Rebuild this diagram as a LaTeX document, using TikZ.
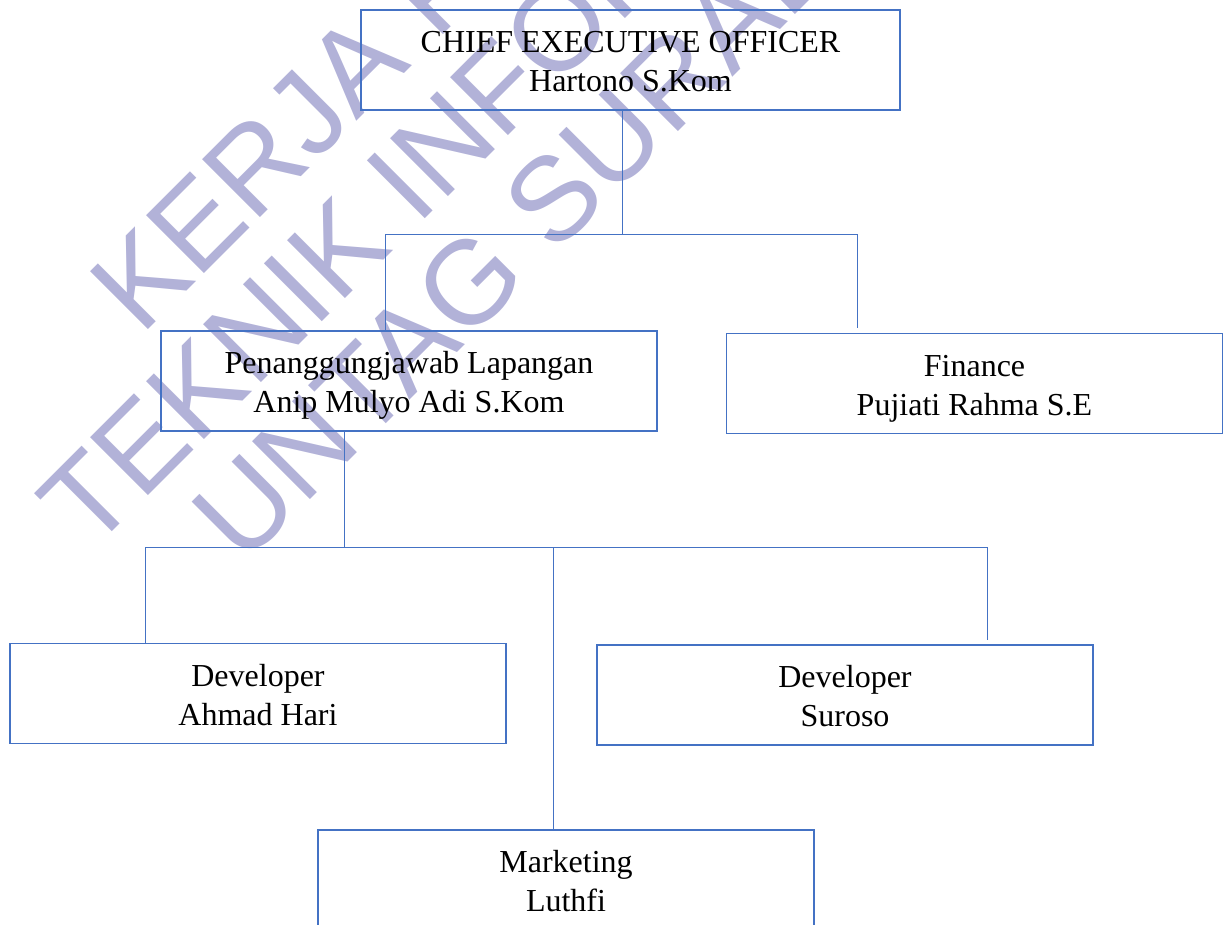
\documentclass[tikz,border=0pt]{standalone}
\usepackage{fontspec}
\setmainfont{Liberation Serif}
\newfontfamily\wmfont{Liberation Sans}
\definecolor{boxblue}{RGB}{68,114,196}
\definecolor{wmpurple}{RGB}{178,178,216}
% struts that keep both text lines at fixed baselines inside a box
\newcommand\topline{\rule{0pt}{36pt}}
\newcommand\botline{\rule[-11.7pt]{0pt}{11.7pt}}
\begin{document}
\begin{tikzpicture}[x=1pt,y=-1pt,
  orgbox/.style={draw=boxblue, line width=1.2pt, rectangle,
    minimum width=496pt, minimum height=100pt, inner sep=0pt,
    align=center, font=\fontsize{32}{39}\selectfont},
  conn/.style={draw=boxblue, line width=0.9pt},
  wm/.style={anchor=base west, rotate=45, inner sep=0pt,
    text=wmpurple, font=\wmfont\fontsize{119}{119}\selectfont}]
\useasboundingbox (0,0) rectangle (1227,925);

% diagonal watermark behind the chart
\begin{scope}
  \clip (0,0) rectangle (1227,925);
  \node[wm] (wm1) at (141.4,336.6) {KERJA PRAKTEK};
  \node[wm] (wm2) at (90.3,553.8) {TEKNIK INFORMATIKA};
  \node[wm] (wm3) at (243,567) {UNTAG SURABAYA};
\end{scope}

% boxes
\node[orgbox, minimum width=539pt] (ceo) at (630.5,60)
  {\topline CHIEF EXECUTIVE OFFICER\\Hartono S.Kom\botline};
\node[orgbox] (pl) at (409,381)
  {\topline Penanggungjawab Lapangan\\Anip Mulyo Adi S.Kom\botline};
\node[orgbox] (fin) at (974.5,383.5)
  {\topline Finance\\Pujiati Rahma S.E\botline};
\node[orgbox] (dev1) at (258,693.5)
  {\topline Developer\\Ahmad Hari\botline};
\node[orgbox] (dev2) at (845,695)
  {\topline Developer\\Suroso\botline};
\node[orgbox] (mkt) at (566,880)
  {\topline Marketing\\Luthfi\botline};

% junction points
\coordinate (ceoJ) at (622,234);
\coordinate (a1) at (385,234);
\coordinate (a2) at (857,234);
\coordinate (b0) at (344,547);
\coordinate (b1) at (145,547);
\coordinate (b2) at (553,547);
\coordinate (b3) at (987,547);

% first level
\draw[conn] (ceo.south -| ceoJ) -- (ceoJ);
\draw[conn] (pl.north -| a1) -- (a1) -- (a2) -- ([yshift=5pt]fin.north -| a2);

% second level
\draw[conn] (pl.south -| b0) -- (b0);
\draw[conn] (b1) -- (b3);
\draw[conn] (b1) -- (dev1.north -| b1);
\draw[conn] (b2) -- (mkt.north -| b2);
\draw[conn] (b3) -- ([yshift=4pt]dev2.north -| b3);
\end{tikzpicture}
\end{document}
